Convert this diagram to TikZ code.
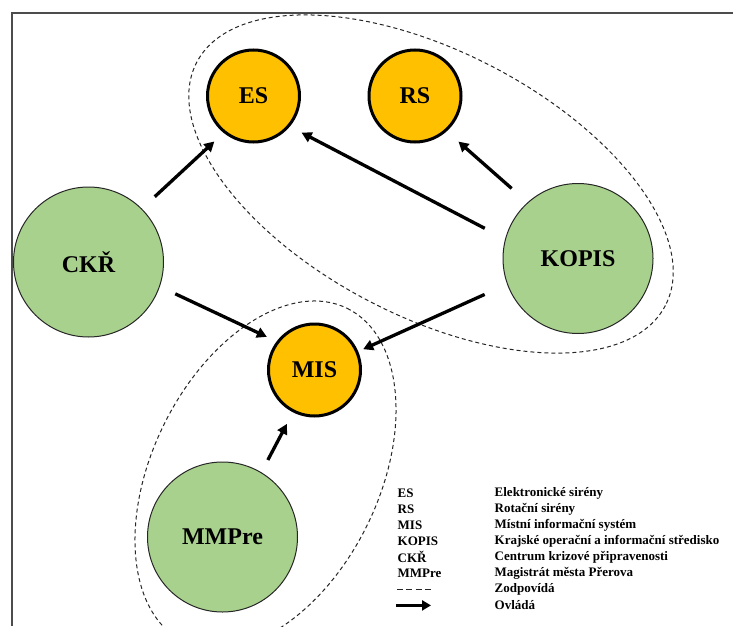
\documentclass[tikz,border=0pt]{standalone}
\usepackage{fontspec}
\setmainfont{Liberation Serif}
\usetikzlibrary{arrows.meta}
\definecolor{orng}{HTML}{FFC000}
\definecolor{grn}{HTML}{A9D18E}
\begin{document}
\begin{tikzpicture}[x=1pt,y=-1pt,
  small/.style={circle,draw=black,line width=3pt,fill=orng,minimum size=92pt,inner sep=0pt,font=\fontsize{24}{28}\selectfont\bfseries},
  big/.style={circle,draw=black!85,line width=1pt,fill=grn,minimum size=150pt,inner sep=0pt,font=\fontsize{24}{28}\selectfont\bfseries},
  ctrl/.style={line width=3.3pt,-{Triangle[length=10pt,width=10.5pt]}},
  grp/.style={draw=black!85,line width=1pt,dash pattern=on 4pt off 3pt},
  legt/.style={anchor=west,inner sep=0pt,font=\fontsize{13}{15}\selectfont\bfseries}]
\useasboundingbox (0,0) rectangle (733,626);
% frame
\draw[line width=1.5pt,black!70] (12,626) -- (12,13) -- (733,13);
% groups
\draw[grp,rotate around={-27.4:(431,184)}] (431,184) ellipse [x radius=264, y radius=132.5];
\draw[grp,rotate around={63.9:(265.5,475)}] (265.5,475) ellipse [x radius=185.6, y radius=113.4];
% nodes
\node[small] (es) at (253.5,96) {ES};
\node[small] (rs) at (415,96) {RS};
\node[small] (mis) at (314.5,370) {MIS};
\node[big] (ckr) at (88.5,262) {CKŘ};
\node[big] (kopis) at (578,258.5) {KOPIS};
\node[big] (mmpre) at (222.5,537) {MMPre};
% connectors
\draw[ctrl,shorten <=17.5pt,shorten >=12.6pt] (ckr.45) -- (es.231);
\draw[ctrl,shorten <=22.9pt,shorten >=13.2pt] (kopis.165) -- (es.320);
\draw[ctrl,shorten <=21.1pt,shorten >=15.5pt] (kopis.132) -- (rs.312);
\draw[ctrl,shorten <=17pt,shorten >=10.7pt] (ckr.341) -- (mis.143);
\draw[ctrl,shorten <=24.6pt,shorten >=5.4pt] (kopis.200) -- (mis.23);
\draw[ctrl,shorten <=13.9pt,shorten >=13.1pt] (mmpre.59) -- (mis.243);
% legend
\node[legt] (k1) at (397.5,493.4) {ES};
\node[legt] (v1) at (494.5,493.4) {Elektronické sirény};
\node[legt] (k2) at (397.5,509.4) {RS};
\node[legt] (v2) at (494.5,509.4) {Rotační sirény};
\node[legt] (k3) at (397.5,525.4) {MIS};
\node[legt] (v3) at (494.5,525.4) {Místní informační systém};
\node[legt] (k4) at (397.5,541.4) {KOPIS};
\node[legt] (v4) at (494.5,541.4) {Krajské operační a informační středisko};
\node[legt] (k5) at (397.5,557.4) {CKŘ};
\node[legt] (v5) at (494.5,557.4) {Centrum krizové připravenosti};
\node[legt] (k6) at (397.5,573.4) {MMPre};
\node[legt] (v6) at (494.5,573.4) {Magistrát města Přerova};
\coordinate (d1) at (397,589.4);
\coordinate (d2) at (431,589.4);
\draw[line width=1.8pt,black!85,dash pattern=on 6pt off 3.33pt] (d1) -- (d2);
\node[legt] (v7) at (494.5,589.4) {Zodpovídá};
\coordinate (a1) at (396,605.4);
\coordinate (a2) at (431,605.4);
\draw[line width=3.3pt,-{Triangle[length=9pt,width=10pt]}] (a1) -- (a2);
\node[legt] (v8) at (494.5,605.4) {Ovládá};
\end{tikzpicture}
\end{document}
